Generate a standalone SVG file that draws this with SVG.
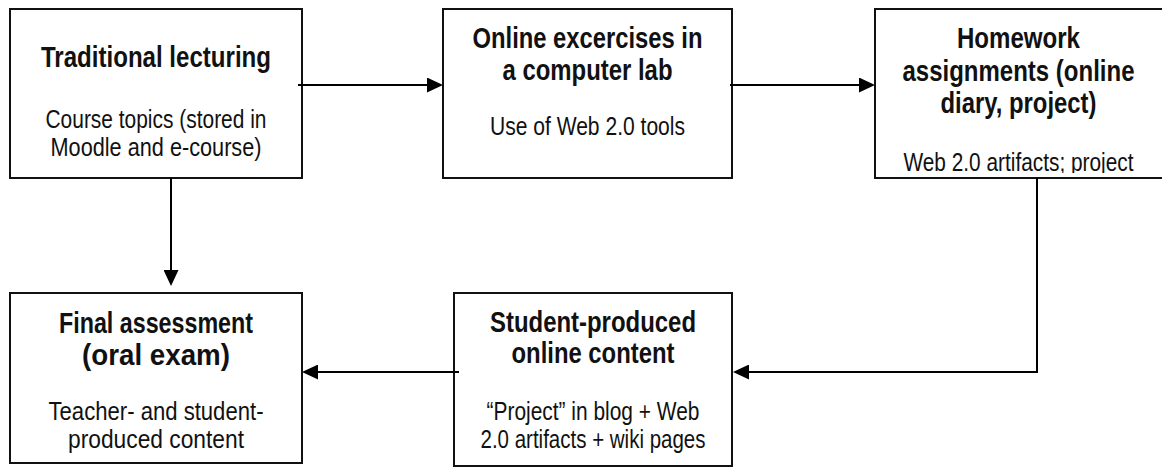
<svg xmlns="http://www.w3.org/2000/svg" width="1162" height="468" viewBox="0 0 1162 468">
<style>
.box{fill:#fff;stroke:#111;stroke-width:2}
.t{font-family:'Liberation Sans Narrow','Liberation Sans',Arial,sans-serif;font-weight:bold;font-size:29px;fill:#111;text-anchor:middle}
.b{font-family:'Liberation Sans Narrow','Liberation Sans',Arial,sans-serif;font-size:25px;fill:#111;text-anchor:middle}
.c{fill:none;stroke:#000;stroke-width:2}
</style>
<defs>
<marker id="ah" markerUnits="userSpaceOnUse" markerWidth="16" markerHeight="15" refX="8" refY="7.5" orient="auto">
<path d="M0,0 L16,7.5 L0,15 z" fill="#000"/>
</marker>
<clipPath id="clip3"><rect x="876" y="10" width="290" height="163"/></clipPath>
</defs>
<rect width="1162" height="468" fill="#fff"/>
<g id="n1">
<rect class="box" x="10" y="9" width="292" height="169"/>
<text class="t" x="156" y="67" textLength="230" lengthAdjust="spacingAndGlyphs">Traditional lecturing</text>
<text class="b" x="156" y="128" textLength="221" lengthAdjust="spacingAndGlyphs">Course topics (stored in</text>
<text class="b" x="156" y="156" textLength="211" lengthAdjust="spacingAndGlyphs">Moodle and e-course)</text>
</g>
<g id="n2">
<rect class="box" x="443" y="9" width="289" height="169"/>
<text class="t" x="587.5" y="48" textLength="230" lengthAdjust="spacingAndGlyphs">Online excercises in</text>
<text class="t" x="587.5" y="80" textLength="170" lengthAdjust="spacingAndGlyphs">a computer lab</text>
<text class="b" x="587.5" y="135" textLength="195" lengthAdjust="spacingAndGlyphs">Use of Web 2.0 tools</text>
</g>
<g id="n3">
<rect class="box" x="875" y="9" width="288" height="169"/>
<text class="t" x="1018.5" y="48" textLength="123" lengthAdjust="spacingAndGlyphs">Homework</text>
<text class="t" x="1018.5" y="81" textLength="232" lengthAdjust="spacingAndGlyphs">assignments (online</text>
<text class="t" x="1018.5" y="113" textLength="156" lengthAdjust="spacingAndGlyphs">diary, project)</text>
<text class="b" x="1018.5" y="171" textLength="230" lengthAdjust="spacingAndGlyphs" clip-path="url(#clip3)">Web 2.0 artifacts; project</text>
</g>
<g id="n4">
<rect class="box" x="10" y="293" width="292" height="170"/>
<text class="t" x="156" y="333" textLength="194" lengthAdjust="spacingAndGlyphs">Final assessment</text>
<text class="t" x="156" y="365" textLength="148" lengthAdjust="spacingAndGlyphs">(oral exam)</text>
<text class="b" x="156" y="420" textLength="215" lengthAdjust="spacingAndGlyphs">Teacher- and student-</text>
<text class="b" x="156" y="448" textLength="176" lengthAdjust="spacingAndGlyphs">produced content</text>
</g>
<g id="n5">
<rect class="box" x="454" y="293" width="278" height="173"/>
<text class="t" x="593" y="332" textLength="206" lengthAdjust="spacingAndGlyphs">Student-produced</text>
<text class="t" x="593" y="363" textLength="163" lengthAdjust="spacingAndGlyphs">online content</text>
<text class="b" x="593" y="420" textLength="213" lengthAdjust="spacingAndGlyphs">“Project” in blog + Web</text>
<text class="b" x="593" y="448" textLength="225" lengthAdjust="spacingAndGlyphs">2.0 artifacts + wiki pages</text>
</g>
<g id="connectors">
<line class="c" x1="298" y1="85" x2="435" y2="85" marker-end="url(#ah)"/>
<line class="c" x1="730" y1="85" x2="867" y2="85" marker-end="url(#ah)"/>
<line class="c" x1="171" y1="178" x2="171" y2="278" marker-end="url(#ah)"/>
<polyline class="c" points="1037,178 1037,372 741,372" marker-end="url(#ah)"/>
<line class="c" x1="459" y1="372" x2="310" y2="372" marker-end="url(#ah)"/>
</g>
</svg>
